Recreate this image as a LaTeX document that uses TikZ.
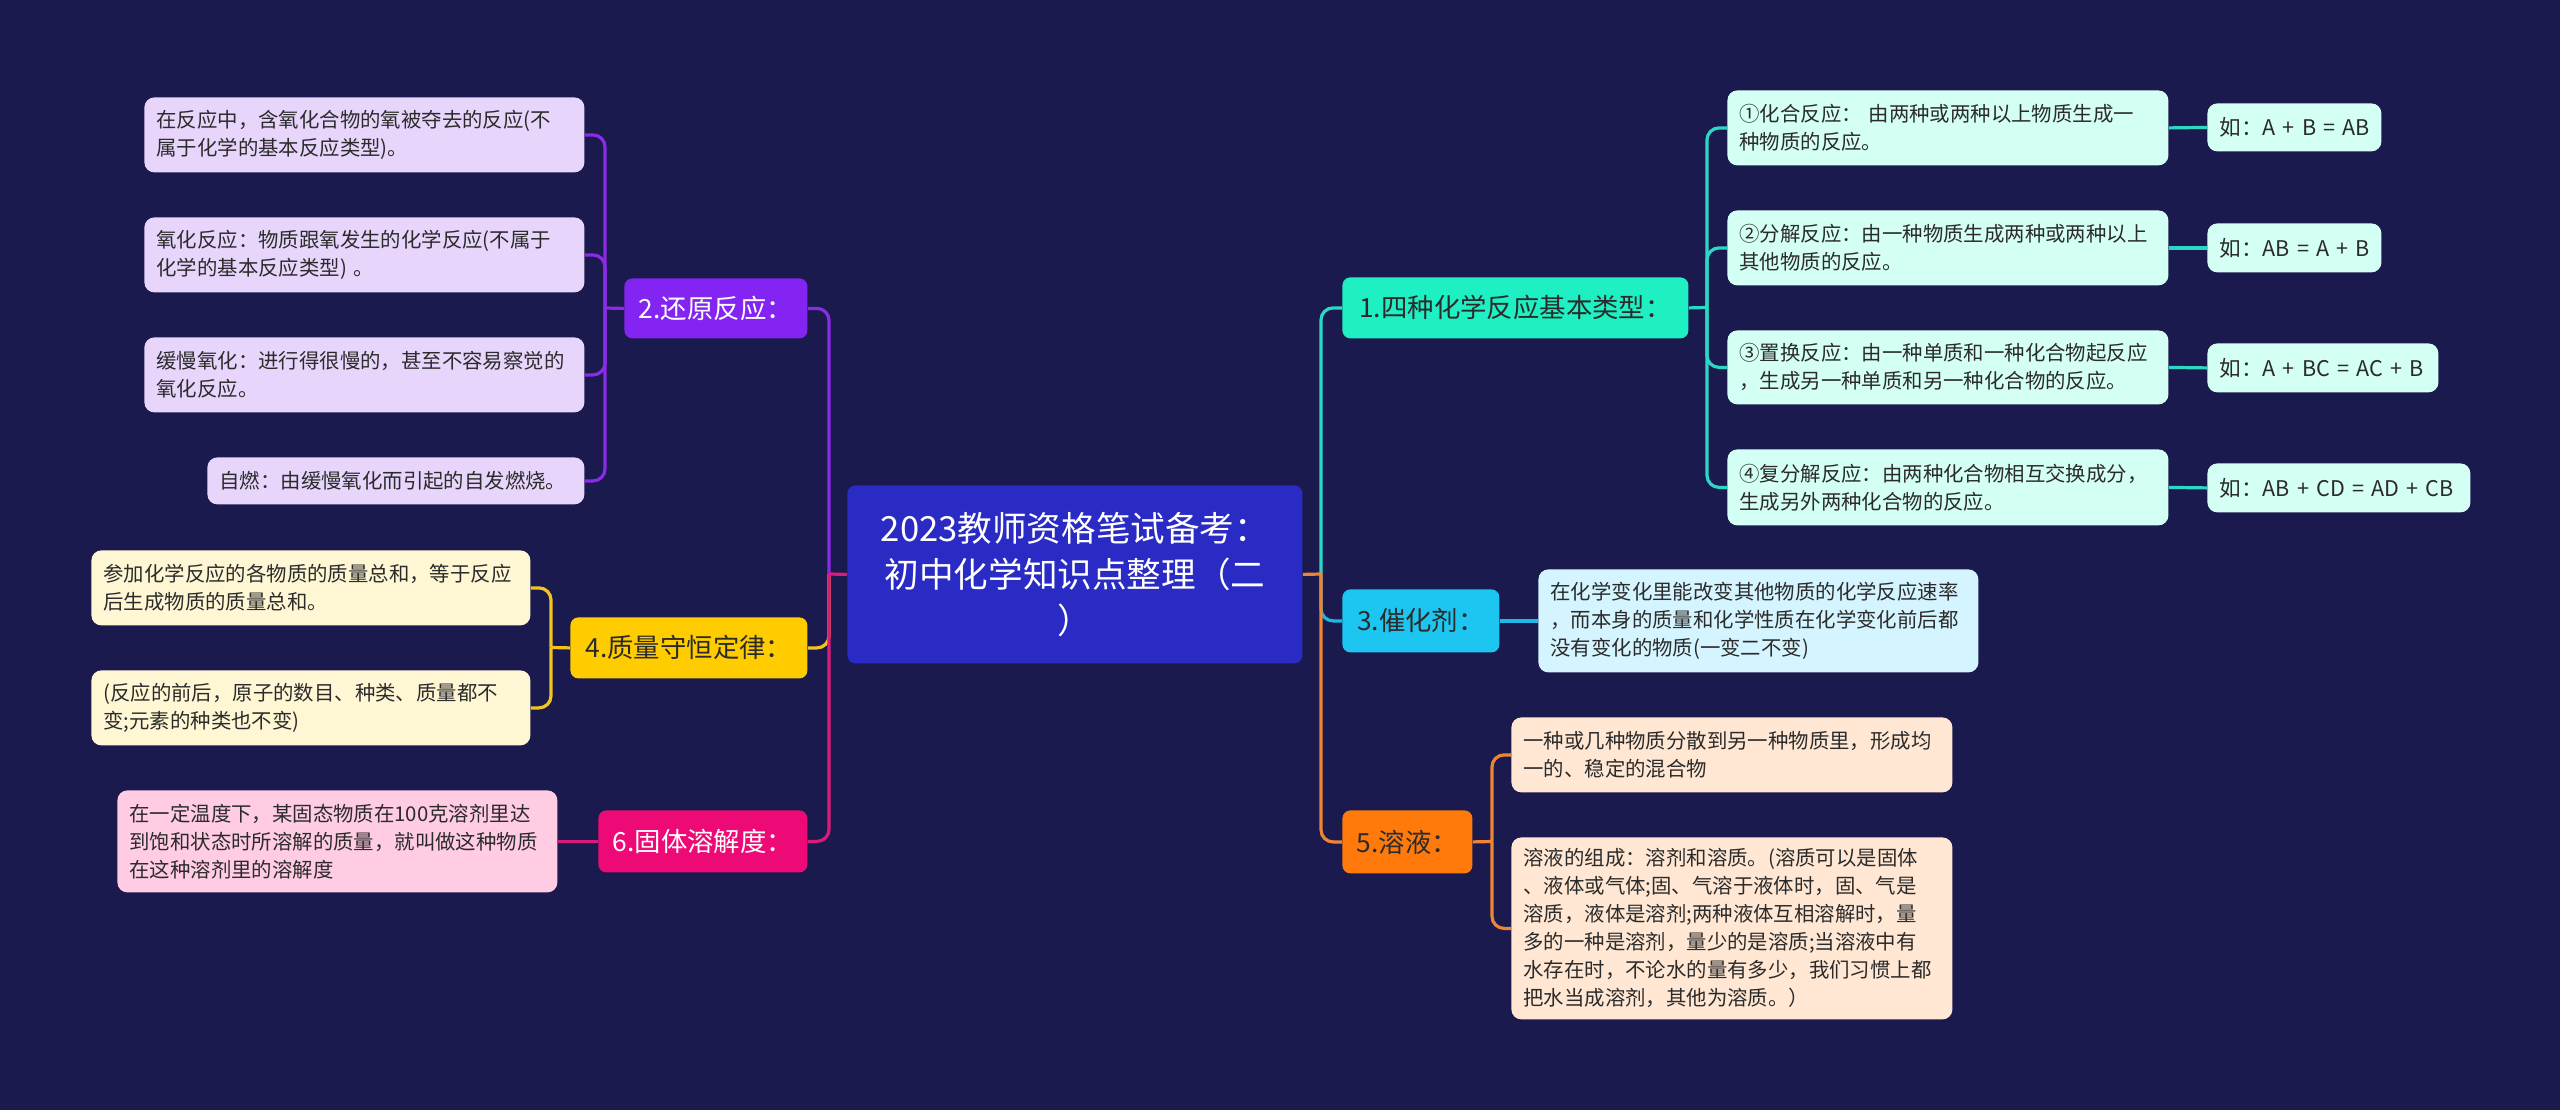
\documentclass[tikz,border=0pt]{standalone}
\usepackage{fontspec}
\setmainfont{Noto Sans CJK SC}
\definecolor{bg}{HTML}{1B1A4E}
\definecolor{cbox}{HTML}{2A2AC4}
\definecolor{cPurp}{HTML}{8424F2}
\definecolor{cPurpLine}{HTML}{8A2BE6}
\definecolor{cPurpLeaf}{HTML}{E7D5FB}
\definecolor{cYel}{HTML}{FFCC00}
\definecolor{cYelLine}{HTML}{F2C420}
\definecolor{cYelLeaf}{HTML}{FFF7D4}
\definecolor{cMag}{HTML}{EE0A76}
\definecolor{cMagLine}{HTML}{DC1A7C}
\definecolor{cMagLeaf}{HTML}{FFCCE4}
\definecolor{cTeal}{HTML}{1EF0C3}
\definecolor{cTealLine}{HTML}{2AD8C4}
\definecolor{cTealLeaf}{HTML}{D4FFF4}
\definecolor{cCyan}{HTML}{1CC6F0}
\definecolor{cCyanLine}{HTML}{1FB8E4}
\definecolor{cCyanLeaf}{HTML}{D4F4FF}
\definecolor{cOra}{HTML}{FF7A0A}
\definecolor{cOraLine}{HTML}{EE8436}
\definecolor{cOraLeaf}{HTML}{FFE7D3}
\definecolor{leaftext}{HTML}{2B2B2B}
\newcommand\myleaffont{\fontsize{10.2pt}{14pt}\selectfont}
\newcommand\myexfont{\fontsize{10.8pt}{14pt}\selectfont}
\newcommand\mylabfont{\fontsize{13.2pt}{16pt}\selectfont}
\newcommand\mycenterfont{\fontsize{17.3pt}{23pt}\selectfont}
\newcommand\mybox[7]{%
  \pgfmathsetmacro\myw{(#4-#2)/2}%
  \pgfmathsetmacro\myh{(#5-#3)/2}%
  \pgfmathsetmacro\mytw{(#4-#2)/2-12}%
  \node[#6, minimum width=\myw pt, minimum height=\myh pt, text width=\mytw pt, anchor=north west] (#1) at (#2,#3) {#7};}
\tikzset{
  leafbox/.style={rounded corners=5pt, inner xsep=6pt, inner ysep=0pt, align=left, font=\myleaffont, text=leaftext},
  exbox/.style={leafbox, font=\myexfont},
  mainbox/.style={rounded corners=4pt, inner xsep=6pt, inner ysep=0pt, align=center, font=\mylabfont},
  conn/.style={line width=1.6pt},
  rc/.style={conn, rounded corners=6pt}
}
\begin{document}
\begin{tikzpicture}[x=0.5pt,y=-0.5pt]
\useasboundingbox (0,0) rectangle (2560,1110);
\fill[bg] (0,0) rectangle (2560,1110);

% centre
\mybox{C}{847}{485}{1302}{663}{mainbox, fill=cbox, text=white, font=\mycenterfont}{2023教师资格笔试备考：\\初中化学知识点整理（二\\）}

% main branches
\mybox{N2}{624}{278}{807}{338}{mainbox, fill=cPurp, text=white}{2.还原反应：}
\mybox{N4}{570}{617}{807}{678}{mainbox, fill=cYel, text=leaftext}{4.质量守恒定律：}
\mybox{N6}{598}{810}{807}{872}{mainbox, fill=cMag, text=white}{6.固体溶解度：}
\mybox{N1}{1342}{277}{1688}{338}{mainbox, fill=cTeal, text=leaftext}{1.四种化学反应基本类型：}
\mybox{N3}{1342}{589}{1499}{652}{mainbox, fill=cCyan, text=leaftext}{3.催化剂：}
\mybox{N5}{1342}{810}{1472}{873}{mainbox, fill=cOra, text=leaftext}{5.溶液：}

% leaves of 2
\mybox{La}{144}{97}{584}{172}{leafbox, fill=cPurpLeaf}{在反应中，含氧化合物的氧被夺去的反应(不\\属于化学的基本反应类型)。}
\mybox{Lb}{144}{217}{584}{292}{leafbox, fill=cPurpLeaf}{氧化反应：物质跟氧发生的化学反应(不属于\\化学的基本反应类型) 。}
\mybox{Lc}{144}{337}{584}{412}{leafbox, fill=cPurpLeaf}{缓慢氧化：进行得很慢的，甚至不容易察觉的\\氧化反应。}
\mybox{Ld}{207}{457}{584}{504}{leafbox, fill=cPurpLeaf}{自燃：由缓慢氧化而引起的自发燃烧。}

% leaves of 4
\mybox{Ma}{91}{550}{530}{625}{leafbox, fill=cYelLeaf}{参加化学反应的各物质的质量总和，等于反应\\后生成物质的质量总和。}
\mybox{Mb}{91}{670}{530}{745}{leafbox, fill=cYelLeaf}{(反应的前后，原子的数目、种类、质量都不\\变;元素的种类也不变)}

% leaf of 6
\mybox{Sa}{117}{790}{557}{892}{leafbox, fill=cMagLeaf}{在一定温度下，某固态物质在100克溶剂里达\\到饱和状态时所溶解的质量，就叫做这种物质\\在这种溶剂里的溶解度}

% leaves of 1
\mybox{Ra}{1727}{90}{2168}{165}{leafbox, fill=cTealLeaf}{①化合反应： 由两种或两种以上物质生成一\\种物质的反应。}
\mybox{Rb}{1727}{210}{2168}{285}{leafbox, fill=cTealLeaf}{②分解反应：由一种物质生成两种或两种以上\\其他物质的反应。}
\mybox{Rc}{1727}{330}{2168}{404}{leafbox, fill=cTealLeaf}{③置换反应：由一种单质和一种化合物起反应\\，生成另一种单质和另一种化合物的反应。}
\mybox{Rd}{1727}{449}{2168}{525}{leafbox, fill=cTealLeaf}{④复分解反应：由两种化合物相互交换成分，\\生成另外两种化合物的反应。}
\mybox{Ea}{2207}{103}{2381}{151}{exbox, fill=cTealLeaf}{\mbox{如：A + B = AB}}
\mybox{Eb}{2207}{223}{2381}{272}{exbox, fill=cTealLeaf}{\mbox{如：AB = A + B}}
\mybox{Ec}{2207}{343}{2438}{392}{exbox, fill=cTealLeaf}{\mbox{如：A + BC = AC + B}}
\mybox{Ed}{2207}{463}{2470}{512}{exbox, fill=cTealLeaf}{\mbox{如：AB + CD = AD + CB}}

% leaf of 3
\mybox{Ka}{1538}{569}{1978}{672}{leafbox, fill=cCyanLeaf}{在化学变化里能改变其他物质的化学反应速率\\，而本身的质量和化学性质在化学变化前后都\\没有变化的物质(一变二不变)}

% leaves of 5
\mybox{Ya}{1511}{717}{1952}{792}{leafbox, fill=cOraLeaf}{一种或几种物质分散到另一种物质里，形成均\\一的、稳定的混合物}
\mybox{Yb}{1511}{837}{1952}{1019}{leafbox, fill=cOraLeaf}{溶液的组成：溶剂和溶质。(溶质可以是固体\\、液体或气体;固、气溶于液体时，固、气是\\溶质，液体是溶剂;两种液体互相溶解时，量\\多的一种是溶剂，量少的是溶质;当溶液中有\\水存在时，不论水的量有多少，我们习惯上都\\把水当成溶剂，其他为溶质。）}

% junction coordinates
\coordinate (LJ) at (829,574);
\coordinate (RJ) at (1321,574);
\coordinate (N2j) at (605,308);
\coordinate (N4j) at (551,647.5);
\coordinate (N1j) at (1707,307.5);
\coordinate (N5j) at (1492,841.5);

% trunk left
\draw[rc, cPurpLine] (LJ) |- (N2.east);
\draw[rc, cYelLine] (LJ) |- (N4.east);
\draw[rc, cMagLine] (LJ) |- (N6.east);
\draw[conn, cMagLine] (C.west) -- (LJ);
% trunk right
\draw[rc, cTealLine] (RJ) |- (N1.west);
\draw[rc, cCyanLine] (RJ) |- (N3.west);
\draw[rc, cOraLine] (RJ) |- (N5.west);
\draw[conn, cOraLine] (C.east) -- (RJ);

% branch 2
\draw[conn, cPurpLine] (N2.west) -- (N2j);
\foreach \t in {La,Lb,Lc,Ld} \draw[rc, cPurpLine] (N2j) |- (\t.east);
% branch 4
\draw[conn, cYelLine] (N4.west) -- (N4j);
\foreach \t in {Ma,Mb} \draw[rc, cYelLine] (N4j) |- (\t.east);
% branch 6
\draw[conn, cMagLine] (N6.west) -- (Sa.east);
% branch 1
\draw[conn, cTealLine] (N1.east) -- (N1j);
\foreach \t in {Ra,Rb,Rc,Rd} \draw[rc, cTealLine] (N1j) |- (\t.west);
\draw[conn, cTealLine] (Ra.east) -- (Ea.west);
\draw[conn, cTealLine] (Rb.east) -- (Eb.west);
\draw[conn, cTealLine] (Rc.east) -- (Ec.west);
\draw[conn, cTealLine] (Rd.east) -- (Ed.west);
% branch 3
\draw[conn, cCyanLine] (N3.east) -- (Ka.west);
% branch 5
\draw[conn, cOraLine] (N5.east) -- (N5j);
\foreach \t in {Ya,Yb} \draw[rc, cOraLine] (N5j) |- (\t.west);
\end{tikzpicture}
\end{document}
